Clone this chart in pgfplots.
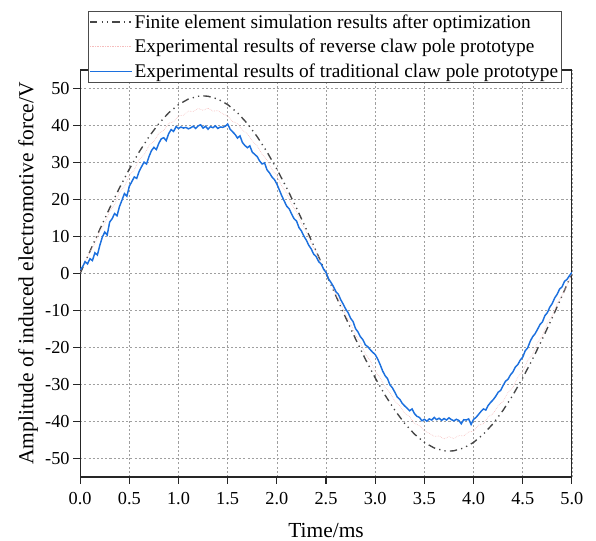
\documentclass[border=0pt]{standalone}
\usepackage{fontspec}
\setmainfont{Liberation Serif}
\usepackage{pgfplots}
\pgfplotsset{compat=1.18}
\definecolor{bl}{RGB}{28,112,222}
\definecolor{fe}{RGB}{70,70,70}
\definecolor{pk}{RGB}{246,190,190}
\begin{document}
\begin{tikzpicture}
\begin{axis}[
  scale only axis, width=470pt, height=389pt,
  xmin=0, xmax=5, ymin=-55, ymax=55,
  xtick={0,0.5,...,5}, ytick={-50,-40,...,50},
  /pgf/number format/assume math mode=true,
  tick label style={font=\fontsize{17.5}{20}\selectfont},
  xticklabel style={yshift=-5pt, /pgf/number format/.cd, fixed, fixed zerofill, precision=1},
  label style={font=\fontsize{20.5}{24}\selectfont},
  xlabel style={yshift=-10pt},
  xlabel={Time/ms}, ylabel={Amplitude of induced electromotive force/V},
  tick align=outside, xtick pos=left, ytick pos=left,
  major tick length=6.5pt,
  axis line style={line width=1.1pt, black!85},
  xmajorgrids=true, ymajorgrids=true,
  major grid style={gray!75, dash pattern=on 2pt off 2pt, line width=0.6pt},
  every tick/.append style={line width=1.1pt, black!85},
  legend cell align=left,
  legend style={at={(0.016,0.97)}, anchor=south west, font=\fontsize{18.5}{22}\selectfont,
    draw=black!70, inner sep=1pt, row sep=5pt},
  legend image code/.code={\draw[#1] (0cm,0cm) -- (1.4cm,0cm);},
  extra description/.code={\path (axis description cs:-0.163,-0.157) (axis description cs:1.049,1.172);},
]
\addplot[draw=fe, line width=1.3pt, dash pattern=on 7pt off 4pt on 1.2pt off 4pt on 1.2pt off 4pt] coordinates {
(0,0)(0.1,6.02)(0.2,11.94)(0.3,17.67)(0.4,23.13)(0.5,28.21)(0.6,32.86)(0.7,36.98)(0.8,40.53)(0.9,43.43)
(1.0,45.65)(1.1,47.15)(1.2,47.91)(1.25,48.0)(1.3,47.91)(1.4,47.15)(1.5,45.65)(1.6,43.43)(1.7,40.53)(1.8,36.98)
(1.9,32.86)(2.0,28.21)(2.1,23.13)(2.2,17.67)(2.3,11.94)(2.4,6.02)(2.5,0)
(2.6,-6.02)(2.7,-11.94)(2.8,-17.67)(2.9,-23.13)(3.0,-28.21)(3.1,-32.86)(3.2,-36.98)(3.3,-40.53)(3.4,-43.43)
(3.5,-45.65)(3.6,-47.15)(3.7,-47.91)(3.75,-48.0)(3.8,-47.91)(3.9,-47.15)(4.0,-45.65)(4.1,-43.43)(4.2,-40.53)(4.3,-36.98)
(4.4,-32.86)(4.5,-28.21)(4.6,-23.13)(4.7,-17.67)(4.8,-11.94)(4.9,-6.02)(5.0,0)
};
\addlegendentry{Finite element simulation results after optimization}
\addplot[draw=pk, line width=0.6pt, densely dotted] coordinates {
(0.00,0.5)(0.05,3.2)(0.10,5.9)(0.15,8.1)(0.20,11.5)(0.25,13.4)(0.30,16.8)(0.35,18.6)(0.40,21.9)(0.45,23.5)
(0.50,26.5)(0.55,28.0)(0.60,30.8)(0.65,32.1)(0.70,34.6)(0.75,35.7)(0.80,37.9)(0.85,38.7)(0.90,40.6)(0.95,41.0)
(1.00,42.6)(1.05,42.8)(1.10,43.9)(1.15,43.8)(1.20,44.6)(1.25,44.1)(1.30,44.7)(1.35,43.9)(1.40,44.0)(1.45,43.2)
(1.50,42.5)(1.55,41.1)(1.60,40.5)(1.65,38.7)(1.70,37.8)(1.75,35.8)(1.80,34.5)(1.85,32.2)(1.90,30.7)(1.95,28.1)
(2.00,26.4)(2.05,23.6)(2.10,21.7)(2.15,18.7)(2.20,16.6)(2.25,13.5)(2.30,11.3)(2.35,8.1)(2.40,5.8)(2.45,2.6)
(2.50,0.2)(2.55,-2.6)(2.60,-5.8)(2.65,-8.1)(2.70,-11.3)(2.75,-13.5)(2.80,-16.6)(2.85,-18.7)(2.90,-21.7)(2.95,-23.6)
(3.00,-26.4)(3.05,-28.1)(3.10,-30.7)(3.15,-32.2)(3.20,-34.5)(3.25,-35.8)(3.30,-37.8)(3.35,-38.7)(3.40,-40.5)(3.45,-41.1)
(3.50,-42.5)(3.55,-43.2)(3.60,-44.0)(3.65,-43.9)(3.70,-44.7)(3.75,-44.1)(3.80,-44.6)(3.85,-43.8)(3.90,-43.9)(3.95,-42.8)
(4.00,-42.6)(4.05,-41.0)(4.10,-40.6)(4.15,-38.7)(4.20,-37.9)(4.25,-35.7)(4.30,-34.6)(4.35,-32.1)(4.40,-30.8)(4.45,-28.0)
(4.50,-26.5)(4.55,-23.5)(4.60,-21.9)(4.65,-18.6)(4.70,-16.8)(4.75,-13.4)(4.80,-11.5)(4.85,-8.1)(4.90,-5.9)(4.95,-3.2)(5.00,0.0)
};
\addlegendentry{Experimental results of reverse claw pole prototype}
\addplot[draw=bl, line width=1.4pt] coordinates {
(0.000,1.0)(0.025,1.8)(0.050,3.2)(0.075,2.6)(0.100,4.0)(0.125,3.5)(0.150,5.6)(0.175,5.0)(0.200,7.6)(0.225,9.8)
(0.250,11.2)(0.275,10.4)(0.300,13.9)(0.325,14.8)(0.350,16.2)(0.375,15.6)(0.400,18.1)(0.425,19.8)(0.450,21.6)(0.475,20.9)
(0.500,23.6)(0.525,24.8)(0.550,26.1)(0.575,25.7)(0.600,27.6)(0.625,28.9)(0.650,30.1)(0.675,29.6)(0.700,31.6)(0.725,33.2)
(0.750,34.1)(0.775,33.5)(0.800,35.2)(0.825,36.4)(0.850,36.7)(0.875,35.9)(0.900,37.8)(0.925,38.9)(0.950,38.4)(0.975,39.7)
(1.000,39.2)(1.025,39.6)(1.050,39.3)(1.075,39.5)(1.100,39.1)(1.125,39.4)(1.150,39.8)(1.175,39.2)(1.200,39.9)(1.225,40.2)
(1.250,39.3)(1.275,39.8)(1.300,39.0)(1.325,39.7)(1.350,39.4)(1.375,39.9)(1.400,39.2)(1.425,39.6)(1.450,39.5)(1.475,39.8)
(1.500,40.4)(1.525,39.0)(1.550,38.3)(1.575,37.6)(1.600,36.6)(1.625,37.2)(1.650,35.4)(1.675,34.6)(1.700,34.0)(1.725,34.5)
(1.750,32.8)(1.775,32.2)(1.800,31.6)(1.825,30.4)(1.850,29.6)(1.875,29.9)(1.900,28.0)(1.925,27.2)(1.950,26.1)(1.975,25.4)
(2.000,24.2)(2.025,22.6)(2.050,21.0)(2.075,19.6)(2.100,18.2)(2.125,17.5)(2.150,16.1)(2.175,14.8)(2.200,14.2)(2.225,12.4)
(2.250,11.5)(2.275,10.1)(2.300,9.0)(2.325,7.6)(2.350,6.6)(2.375,5.2)(2.400,4.6)(2.425,3.2)(2.450,2.6)(2.475,1.2)
(2.500,0.3)(2.525,-1.4)(2.550,-2.4)(2.575,-3.5)(2.600,-4.9)(2.625,-5.6)(2.650,-7.1)(2.675,-8.3)(2.700,-9.6)(2.725,-10.6)
(2.750,-12.1)(2.775,-13.0)(2.800,-14.9)(2.825,-15.8)(2.850,-17.1)(2.875,-17.9)(2.900,-19.3)(2.925,-19.8)(2.950,-20.6)(2.975,-21.3)
(3.000,-21.9)(3.025,-23.1)(3.050,-24.6)(3.075,-26.3)(3.100,-27.6)(3.125,-28.4)(3.150,-30.1)(3.175,-30.9)(3.200,-32.1)(3.225,-33.4)
(3.250,-34.0)(3.275,-35.1)(3.300,-35.8)(3.325,-36.4)(3.350,-37.1)(3.375,-36.6)(3.400,-37.9)(3.425,-38.6)(3.450,-38.9)(3.475,-39.8)
(3.500,-39.4)(3.525,-39.9)(3.550,-39.3)(3.575,-39.6)(3.600,-38.9)(3.625,-39.5)(3.650,-39.1)(3.675,-39.7)(3.700,-39.2)(3.725,-39.6)
(3.750,-39.0)(3.775,-39.5)(3.800,-39.8)(3.825,-39.4)(3.850,-39.7)(3.875,-40.6)(3.900,-39.5)(3.925,-39.6)(3.950,-39.3)(3.975,-40.8)
(4.000,-39.4)(4.025,-38.9)(4.050,-38.1)(4.075,-37.3)(4.100,-36.6)(4.125,-36.9)(4.150,-35.6)(4.175,-34.8)(4.200,-34.1)(4.225,-33.2)
(4.250,-32.1)(4.275,-31.6)(4.300,-30.3)(4.325,-29.1)(4.350,-28.6)(4.375,-27.4)(4.400,-26.6)(4.425,-25.3)(4.450,-24.6)(4.475,-23.4)
(4.500,-22.6)(4.525,-20.9)(4.550,-20.1)(4.575,-18.4)(4.600,-17.1)(4.625,-16.3)(4.650,-15.1)(4.675,-13.8)(4.700,-13.1)(4.725,-11.4)
(4.750,-10.6)(4.775,-9.1)(4.800,-8.1)(4.825,-6.6)(4.850,-5.6)(4.875,-4.2)(4.900,-3.6)(4.925,-2.1)(4.950,-1.6)(4.975,-0.6)(5.000,0.3)
};
\addlegendentry{Experimental results of traditional claw pole prototype}
\end{axis}
\end{tikzpicture}
\end{document}
